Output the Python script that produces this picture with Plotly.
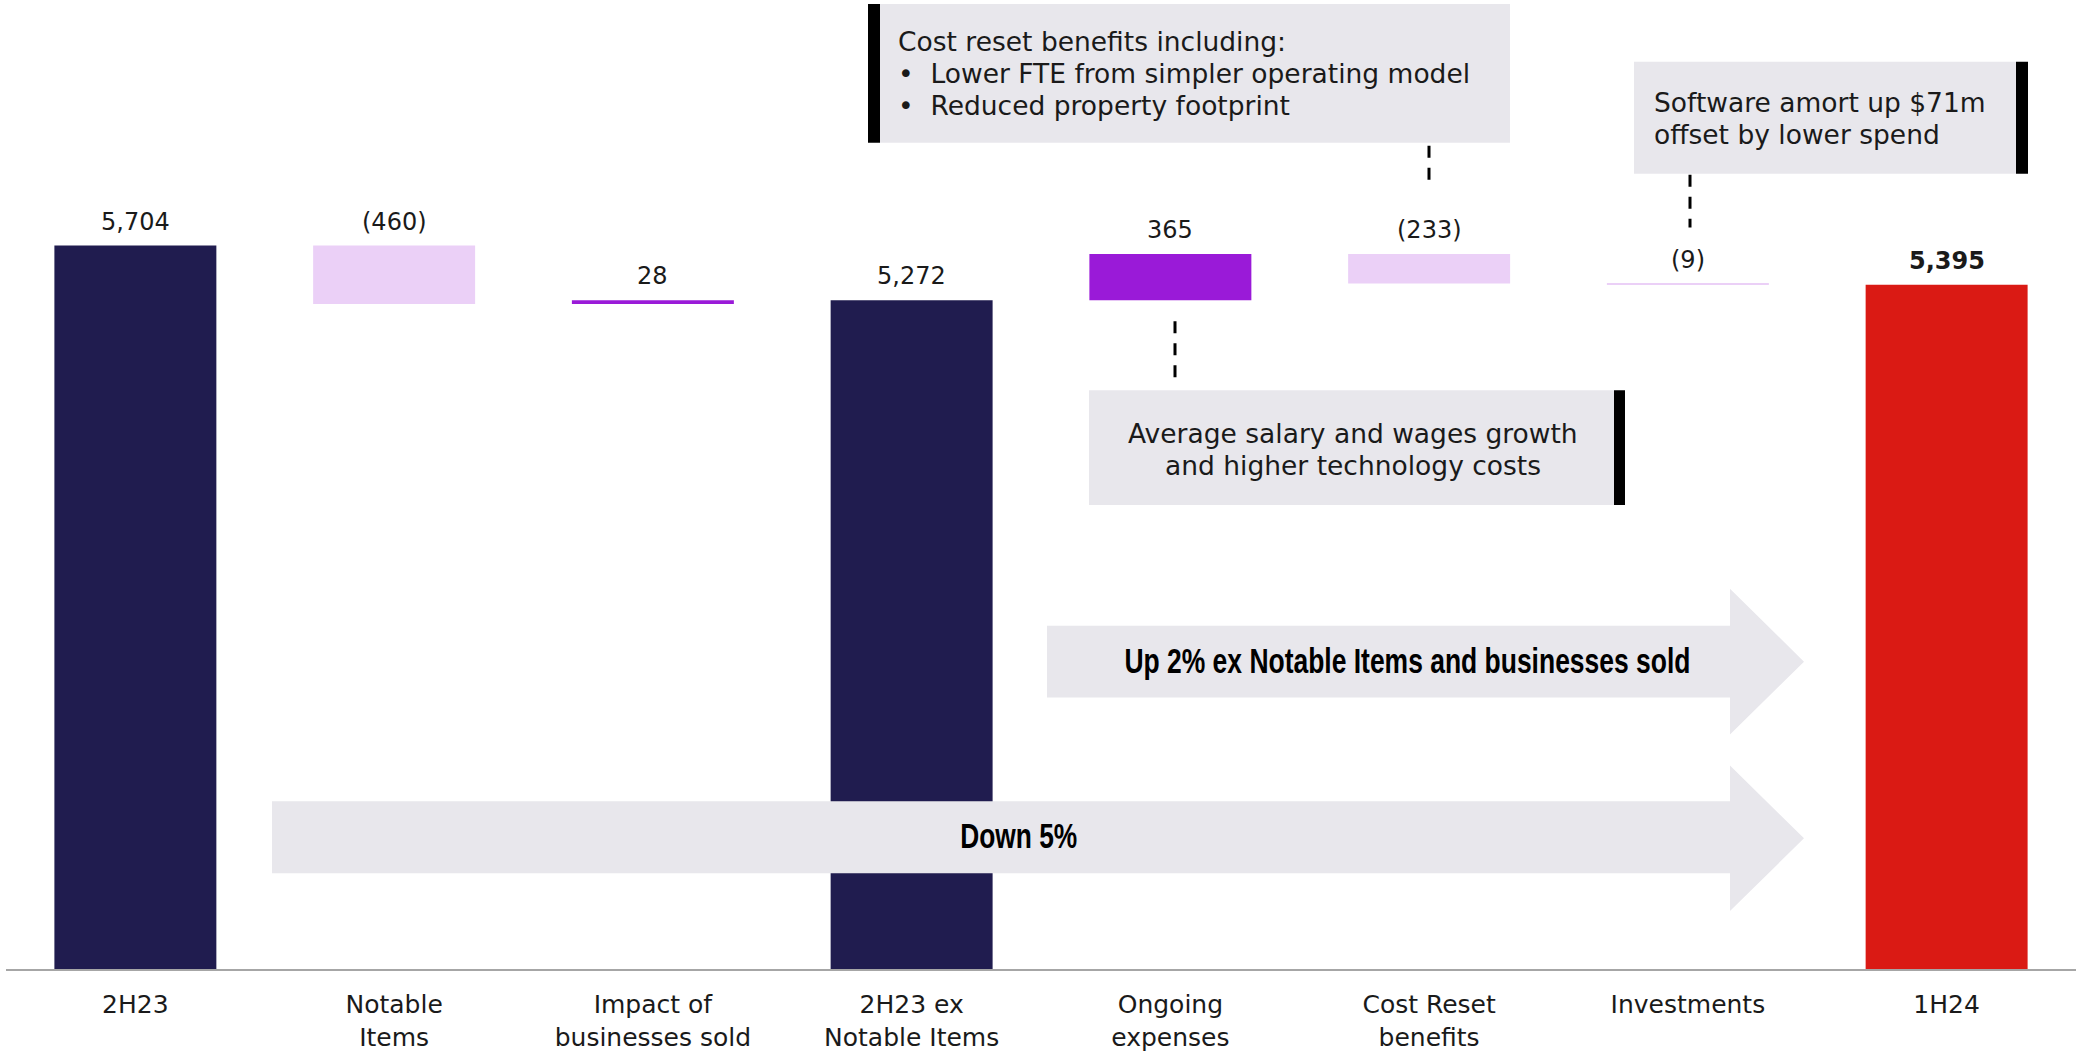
import plotly.graph_objects as go

# ---------------- data ----------------
categories = ["2H23", "Notable<br>Items", "Impact of<br>businesses sold", "2H23 ex<br>Notable Items",
              "Ongoing<br>expenses", "Cost Reset<br>benefits", "Investments", "1H24"]
values = [5704, -460, 28, 5272, 365, -233, -9, 5395]
kinds = ["total", "delta", "delta", "total", "delta", "delta", "delta", "total"]
value_labels = ["5,704", "(460)", "28", "5,272", "365", "(233)", "(9)", "<b>5,395</b>"]

cost_reset_lines = ["Cost reset benefits including:",
                    "•  Lower FTE from simpler operating model",
                    "•  Reduced property footprint"]
software_lines = ["Software amort up $71m", "offset by lower spend"]
salary_lines = ["Average salary and wages growth", "and higher technology costs"]
arrow_texts = ["Up 2% ex Notable Items and businesses sold", "Down 5%"]

# ---------------- styling ----------------
NAVY = "#201C4F"
RED = "#DA1A14"
PURPLE = "#9A1AD8"
LAVENDER = "#EBD0F7"
BOXGRAY = "#E8E7EC"
TXT = "#1A1A1A"
FONT = "DejaVu Sans, Open Sans, sans-serif"
COND = "Liberation Sans, Arial, sans-serif"

W, H = 2080, 1052
ML, MR, MT, MB = 6, 4, 0, 81
PW = W - ML - MR
PH = H - MT - MB


def px(x):
    return (x - ML) / PW


def py(y):
    return (H - MB - y) / PH


# waterfall geometry computed from the values
bases, heights, colors, tops = [], [], [], []
running = 0
for i, (v, k) in enumerate(zip(values, kinds)):
    if k == "total":
        bases.append(0)
        heights.append(v)
        running = v
        colors.append(RED if i == len(values) - 1 else NAVY)
        tops.append(v)
    else:
        b = running if v > 0 else running + v
        bases.append(b)
        heights.append(abs(v))
        colors.append(PURPLE if v > 0 else LAVENDER)
        tops.append(max(running, running + v))
        running += v

xs = list(range(len(categories)))

fig = go.Figure()
fig.add_trace(go.Bar(
    x=xs, y=heights, base=bases, width=0.626,
    marker=dict(color=colors, line=dict(width=0)),
    hoverinfo="skip", showlegend=False,
))

annotations = []
for x, t, lab in zip(xs, tops, value_labels):
    annotations.append(dict(
        x=x, y=t, xref="x", yref="y", text=lab, showarrow=False,
        yanchor="middle", yshift=24, font=dict(family=FONT, size=24, color=TXT),
    ))

shapes = []


def rect(x0, y0, x1, y1, color):
    shapes.append(dict(type="rect", xref="paper", yref="paper",
                       x0=px(x0), x1=px(x1), y0=py(y1), y1=py(y0),
                       fillcolor=color, line=dict(width=0), layer="above"))


def dashed(x, y0, y1):
    shapes.append(dict(type="line", xref="paper", yref="paper",
                       x0=px(x), x1=px(x), y0=py(y0), y1=py(y1),
                       line=dict(color="#000000", width=3, dash="12px,10px"), layer="above"))


def arrow(xl, xb, xt, yt, yb, yht, yhb, ytip):
    pts = [(xl, yt), (xb, yt), (xb, yht), (xt, ytip), (xb, yhb), (xb, yb), (xl, yb)]
    path = "M " + " L ".join(f"{px(a):.5f},{py(b):.5f}" for a, b in pts) + " Z"
    shapes.append(dict(type="path", xref="paper", yref="paper", path=path,
                       fillcolor=BOXGRAY, line=dict(width=0), layer="above"))


def text_lines(lines, x, y_first, step, anchor):
    for j, s in enumerate(lines):
        annotations.append(dict(
            x=px(x), y=py(y_first + j * step), xref="paper", yref="paper",
            xanchor=anchor, yanchor="middle", align=anchor, showarrow=False, text=s,
            font=dict(family=FONT, size=26.5, color=TXT)))


# arrows
arrow(1047, 1730, 1804, 627, 699, 590, 736, 663)
arrow(272, 1730, 1804, 803, 875, 767, 913, 840)

# callout boxes
rect(880, 4, 1510, 143, BOXGRAY)
rect(868, 4, 880, 143, "#000000")
rect(1634, 62, 2016, 174, BOXGRAY)
rect(2016, 62, 2028, 174, "#000000")
rect(1089, 391, 1614, 506, BOXGRAY)
rect(1614, 391, 1625, 506, "#000000")

dashed(1429, 146, 184)
dashed(1175, 322, 385)
dashed(1690, 175, 228)

text_lines(cost_reset_lines, 896, 42, 32, "left")
text_lines(software_lines, 1652, 103, 32, "left")
text_lines(salary_lines, 1353, 434, 32, "center")

annotations += [
    dict(x=px(1407), y=py(662), xref="paper", yref="paper", xanchor="center", yanchor="middle",
         showarrow=False, text=arrow_texts[0],
         font=dict(family=COND, size=35, color="#000000", weight=700)),
    dict(x=px(1019), y=py(837), xref="paper", yref="paper", xanchor="center", yanchor="middle",
         showarrow=False, text=arrow_texts[1],
         font=dict(family=COND, size=35, color="#000000", weight=700)),
]

fig.update_layout(
    width=W, height=H,
    margin=dict(l=ML, r=MR, t=MT, b=MB, pad=0),
    paper_bgcolor="white", plot_bgcolor="white",
    shapes=shapes, annotations=annotations,
    showlegend=False,
    xaxis=dict(range=[-0.5, len(categories) - 0.5], tickmode="array", tickvals=xs, ticktext=categories,
               showline=True, linecolor="#A6A6A6", linewidth=2, ticks="", showgrid=False, zeroline=False,
               tickfont=dict(family=FONT, size=25, color=TXT), ticklabelstandoff=12, fixedrange=True),
    yaxis=dict(range=[0, 7640], visible=False, showgrid=False, zeroline=False, fixedrange=True),
)

post = """
document.body.style.margin='0';
var gd=document.getElementById('{plot_id}');
function squeezeText(){
  gd.querySelectorAll('text.annotation-text').forEach(function(t){
    var s=t.textContent;
    if(s.indexOf('Up 2%')===0){t.setAttribute('textLength','566');t.setAttribute('lengthAdjust','spacingAndGlyphs');}
    else if(s.indexOf('Down 5%')===0){t.setAttribute('textLength','117');t.setAttribute('lengthAdjust','spacingAndGlyphs');}
  });
}
squeezeText();
gd.on('plotly_afterplot', squeezeText);
"""

fig.write_html("out.html", config={"displayModeBar": False}, post_script=post)
